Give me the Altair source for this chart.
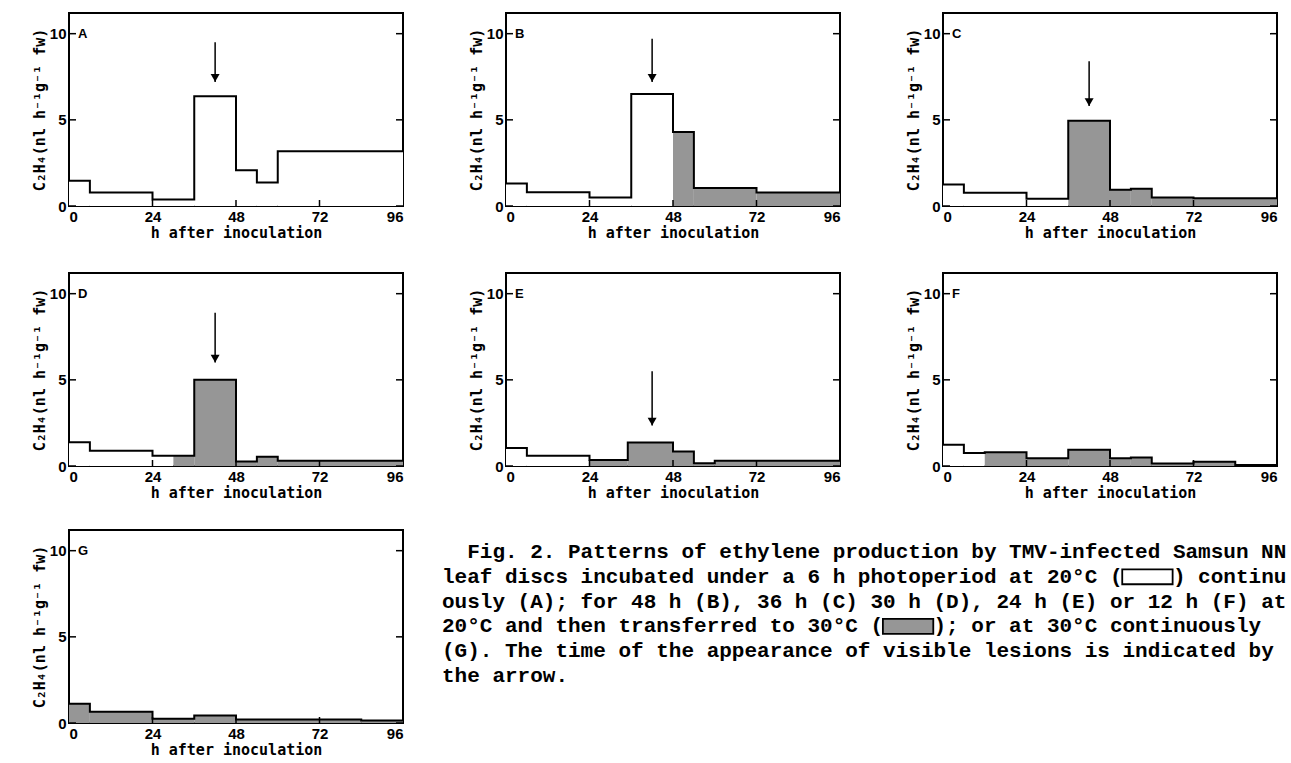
import altair as alt
import pandas as pd

# ---------------- data ----------------
X_TICKS = [0, 24, 48, 72, 96]
Y_TICKS = [0, 5, 10]

A_edges = [0, 6, 24, 36, 48, 54, 60, 96]
A_vals = [1.47, 0.78, 0.38, 6.37, 2.07, 1.37, 3.18]
A_temp = ["20", "20", "20", "20", "20", "20", "20"]

B_edges = [0, 6, 24, 36, 48, 54, 72, 96]
B_vals = [1.3, 0.8, 0.5, 6.5, 4.3, 1.05, 0.78]
B_temp = ["20", "20", "20", "20", "30", "30", "30"]

C_edges = [0, 6, 24, 36, 48, 54, 60, 72, 96]
C_vals = [1.25, 0.77, 0.42, 4.95, 0.95, 1.0, 0.5, 0.45]
C_temp = ["20", "20", "20", "30", "30", "30", "30", "30"]

D_edges = [0, 6, 24, 30, 36, 48, 54, 60, 96]
D_vals = [1.38, 0.89, 0.59, 0.59, 5.0, 0.26, 0.53, 0.3]
D_temp = ["20", "20", "20", "30", "30", "30", "30", "30"]

E_edges = [0, 6, 24, 35, 48, 54, 60, 96]
E_vals = [1.04, 0.6, 0.35, 1.37, 0.84, 0.16, 0.3]
E_temp = ["20", "20", "30", "30", "30", "30", "30"]

F_edges = [0, 6, 12, 24, 36, 48, 54, 60, 72, 84, 96]
F_vals = [1.23, 0.75, 0.8, 0.45, 0.95, 0.45, 0.5, 0.15, 0.25, 0.06]
F_temp = ["20", "20", "30", "30", "30", "30", "30", "30", "30", "30"]

G_edges = [0, 6, 24, 36, 48, 84, 96]
G_vals = [1.12, 0.65, 0.25, 0.43, 0.2, 0.15]
G_temp = ["30", "30", "30", "30", "30", "30"]

# lesion-appearance arrows: (x, top, tip)
ARROWS = {
    "A": (42, 9.5, 7.2),
    "B": (42, 9.7, 7.2),
    "C": (42, 8.4, 5.8),
    "D": (42, 8.9, 6.0),
    "E": (42, 5.5, 2.35),
}

NB = "\u00a0"
CAPTION_LINES = [
    "Fig. 2. Patterns of ethylene production by TMV-infected Samsun NN",
    "leaf discs incubated under a 6 h photoperiod at 20°C (" + NB * 4 + ") continu",
    "ously (A); for 48 h (B), 36 h (C) 30 h (D), 24 h (E) or 12 h (F) at",
    "20°C and then transferred to 30°C (" + NB * 4 + "); or at 30°C continuously",
    "(G). The time of the appearance of visible lesions is indicated by",
    "the arrow.",
]
CAPTION_COL = [2, 0, 0, 0, 0, 0]
SWATCH_LINE = [1, 3]
SWATCH_C0 = [54, 35]
SWATCH_C1 = [58, 39]
SWATCH_TEMP = ["20", "30"]

# ---------------- styling ----------------
W, H = 334, 193
YMAX = 11.2
GRAY = "#969696"
TICK_FONT = "Liberation Sans"
TITLE_FONT = "DejaVu Sans Mono"

fill_scale = alt.Scale(domain=["20", "30"], range=["#ffffff", GRAY])
xs = alt.Scale(domain=[0, 96], nice=False, zero=False)
ys = alt.Scale(domain=[0, YMAX], nice=False)
XAX = alt.Axis(values=X_TICKS, title="h after inoculation", format="d")
YAX = alt.Axis(values=Y_TICKS, title="C₂H₄(nl h⁻¹g⁻¹ fw)", format="d")


def panel(letter, edges, vals, temps):
    bars = pd.DataFrame({"x0": edges[:-1], "x1": edges[1:], "v": vals, "temp": temps})
    steps = pd.DataFrame({"x": edges, "v": list(vals) + [vals[-1]]})

    rect = alt.Chart(bars).mark_rect(strokeWidth=0).encode(
        x=alt.X("x0:Q", scale=xs, axis=XAX),
        x2="x1:Q",
        y=alt.Y("v:Q", scale=ys, axis=YAX),
        y2=alt.datum(0),
        fill=alt.Fill("temp:N", scale=fill_scale, legend=None),
    )
    step = alt.Chart(steps).mark_line(
        interpolate="step-after", color="black", strokeWidth=2
    ).encode(
        x=alt.X("x:Q", scale=xs, axis=XAX),
        y=alt.Y("v:Q", scale=ys, axis=YAX),
    )

    lt = pd.DataFrame({"t": Y_TICKS})
    left_ticks = alt.Chart(lt).mark_rule(color="black", strokeWidth=1.5).encode(
        y=alt.Y("t:Q", scale=ys, axis=YAX), x=alt.value(0), x2=alt.value(7))
    right_ticks = alt.Chart(lt).mark_rule(color="black", strokeWidth=1.5).encode(
        y=alt.Y("t:Q", scale=ys, axis=YAX), x=alt.value(W - 7), x2=alt.value(W))
    bt = pd.DataFrame({"t": X_TICKS[1:-1]})
    bottom_ticks = alt.Chart(bt).mark_rule(color="black", strokeWidth=1.5).encode(
        x=alt.X("t:Q", scale=xs, axis=XAX), y=alt.value(H), y2=alt.value(H - 6))

    lab = alt.Chart(pd.DataFrame({"l": [letter]})).mark_text(
        align="left", baseline="middle", font=TICK_FONT, fontSize=13,
        fontWeight="bold", color="black"
    ).encode(x=alt.value(9), y=alt.Y(datum=10, scale=ys, axis=YAX), text="l:N")

    layers = [rect, step, left_ticks, right_ticks, bottom_ticks, lab]

    if letter in ARROWS:
        ax, top, tip = ARROWS[letter]
        adf = pd.DataFrame({"x": [ax], "top": [top], "tip": [tip]})
        shaft = alt.Chart(adf).mark_rule(color="black", strokeWidth=1.5).encode(
            x=alt.X("x:Q", scale=xs, axis=XAX),
            y=alt.Y("top:Q", scale=ys, axis=YAX), y2="tip:Q")
        head = alt.Chart(adf).mark_point(
            shape="triangle-down", filled=True, size=80, color="black",
            opacity=1, yOffset=-4
        ).encode(x=alt.X("x:Q", scale=xs, axis=XAX),
                 y=alt.Y("tip:Q", scale=ys, axis=YAX))
        layers += [shaft, head]

    return alt.layer(*layers).properties(
        width=W, height=H,
        view=alt.ViewBackground(stroke="black", strokeWidth=2),
    )


# ---------------- caption ----------------
CAP_COLS = 67
CAP_W = 844
cap_df = pd.DataFrame({"line": list(range(len(CAPTION_LINES))),
                       "col": CAPTION_COL, "text": CAPTION_LINES})
cx = alt.Scale(domain=[0, CAP_COLS], nice=False, zero=False)
cy = alt.Scale(domain=[-0.887, 6.895], nice=False, zero=False, reverse=True)

cap_text = alt.Chart(cap_df).mark_text(
    align="left", baseline="middle", font="Liberation Mono", fontSize=21,
    fontWeight="bold", color="black"
).encode(
    x=alt.X("col:Q", scale=cx, axis=None),
    y=alt.Y("line:Q", scale=cy, axis=None),
    text="text:N",
)
sw_df = pd.DataFrame({"line": SWATCH_LINE, "c0": SWATCH_C0, "c1": SWATCH_C1,
                      "temp": SWATCH_TEMP})
cap_sw = alt.Chart(sw_df).transform_calculate(
    top="datum.line - 0.3", bot="datum.line + 0.3"
).mark_rect(stroke="black", strokeWidth=1.8).encode(
    x=alt.X("c0:Q", scale=cx, axis=None), x2="c1:Q",
    y=alt.Y("top:Q", scale=cy, axis=None), y2="bot:Q",
    fill=alt.Fill("temp:N", scale=fill_scale, legend=None),
)
caption = alt.layer(cap_sw, cap_text).properties(
    width=CAP_W, height=H,
    view=alt.ViewBackground(strokeOpacity=0),
)

row1 = alt.hconcat(panel("A", A_edges, A_vals, A_temp),
                   panel("B", B_edges, B_vals, B_temp),
                   panel("C", C_edges, C_vals, C_temp), spacing=60)
row2 = alt.hconcat(panel("D", D_edges, D_vals, D_temp),
                   panel("E", E_edges, E_vals, E_temp),
                   panel("F", F_edges, F_vals, F_temp), spacing=60)
row3 = alt.hconcat(panel("G", G_edges, G_vals, G_temp), caption, spacing=34)

top_rows = alt.vconcat(row1, row2, spacing=31)

chart = alt.vconcat(top_rows, row3, spacing=28).properties(
    padding={"left": 31, "top": 12, "right": 0, "bottom": 0},
    background="white",
).configure_view(
    strokeWidth=0
).configure_axis(
    grid=False, domain=False, ticks=False,
    labelFont=TICK_FONT, labelFontSize=15, labelFontWeight="bold",
    labelColor="black", labelPadding=3,
    titleFont=TITLE_FONT, titleFontSize=15, titleFontWeight="bold",
    titleColor="black",
).configure_axisX(titlePadding=1).configure_axisY(titlePadding=2)

chart.save("out.html", embed_options={"renderer": "svg", "actions": False})
